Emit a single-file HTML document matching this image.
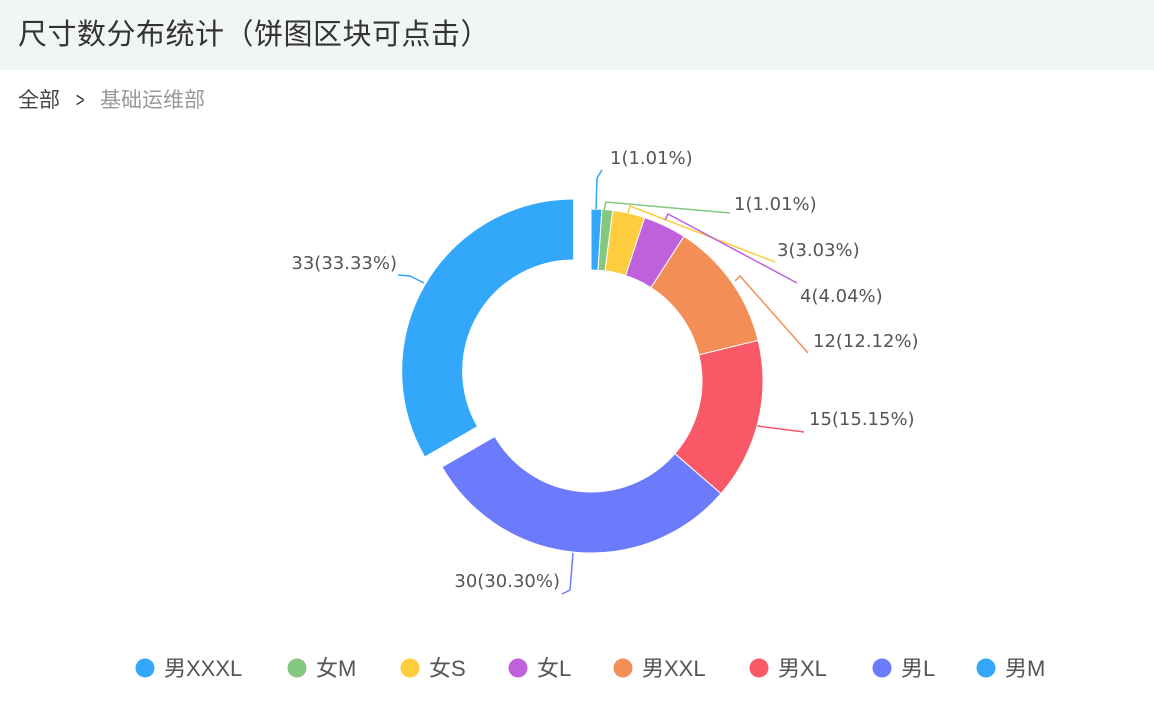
<!DOCTYPE html>
<html><head><meta charset="utf-8"><style>
body{margin:0;width:1154px;height:724px;background:#fff;overflow:hidden;font-family:"Liberation Sans","Noto Sans CJK SC",sans-serif}
.hd{height:70px;background:#f2f5f6;font-size:29px;color:#333;line-height:70px;padding-left:18px;letter-spacing:0.5px}
.bc{position:absolute;top:84px;left:18px;font-size:21px;color:#444}
.bc .g{color:#999}
</style></head><body>
<div class="hd">尺寸数分布统计（饼图区块可点击）</div>
<div class="bc">全部 <span style="display:inline-block;margin:0 8px 0 8px;color:#333;transform:scaleX(0.7)">&gt;</span> <span class="g">基础运维部</span></div>
<svg id="s" width="1154" height="724" style="position:absolute;left:0;top:0" font-family="Liberation Sans, Noto Sans CJK SC, sans-serif"></svg>
<script>
var s=document.getElementById('s');
var cx=591,cy=381,R=172,r=111;
var d=[1,1,3,4,12,15,30,33],c=['#33a7fa','#84c77e','#fdcd3e','#c061dc','#f38e56','#f95866','#6c7bfb','#33a7fa'];
var h='',a=0;
function p(rad,ang,ox,oy){return [cx+ox+rad*Math.sin(ang),cy+oy-rad*Math.cos(ang)];}
for(var i=0;i<8;i++){var a0=a/99*2*Math.PI;a+=d[i];var a1=a/99*2*Math.PI;
var ox=0,oy=0;if(i==7){var m=(a0+a1)/2;ox=20*Math.sin(m);oy=-20*Math.cos(m);}
var A=p(R,a0,ox,oy),B=p(R,a1,ox,oy),C=p(r,a1,ox,oy),D=p(r,a0,ox,oy),lg=(a1-a0)>Math.PI?1:0;
h+='<path d="M'+A+' A'+R+' '+R+' 0 '+lg+' 1 '+B+' L'+C+' A'+r+' '+r+' 0 '+lg+' 0 '+D+'Z" fill="'+c[i]+'" stroke="#fff" stroke-width="1"/>';}
var L=[['596,209 597,178 602,170',610,164,'start','1(1.01%)'],['604,210 606,202 730,213',734,210,'start','1(1.01%)'],
['628,213 630,206 775,262',777,256,'start','3(3.03%)'],['665,220 668,214 797,283',800,302,'start','4(4.04%)'],
['735,281 740,276 808,353',813,347,'start','12(12.12%)'],['757,426 804,432',809,425,'start','15(15.15%)'],
['573,553 570,590 562,594',560,587,'end','30(30.30%)'],['424,283 410,276 398,275',397,269,'end','33(33.33%)']];
var lc=['#33a7fa','#84c77e','#fdcd3e','#c061dc','#f38e56','#f95866','#6c7bfb','#33a7fa'];
L.forEach(function(l,i){h+='<polyline points="'+l[0]+'" fill="none" stroke="'+lc[i]+'" stroke-width="1.5"/><text x="'+l[1]+'" y="'+l[2]+'" font-size="18" font-family="DejaVu Sans, sans-serif" fill="#555" text-anchor="'+l[3]+'">'+l[4]+'</text>';});
var lg2=[[145,'男XXXL'],[297,'女M'],[410,'女S'],[518,'女L'],[623,'男XXL'],[759,'男XL'],[882,'男L'],[986,'男M']];
lg2.forEach(function(g,i){h+='<circle cx="'+g[0]+'" cy="668" r="9.5" fill="'+c[i]+'"/><text x="'+(g[0]+19)+'" y="676" font-size="22" fill="#555">'+g[1]+'</text>';});
s.innerHTML=h;
</script>
</body></html>
